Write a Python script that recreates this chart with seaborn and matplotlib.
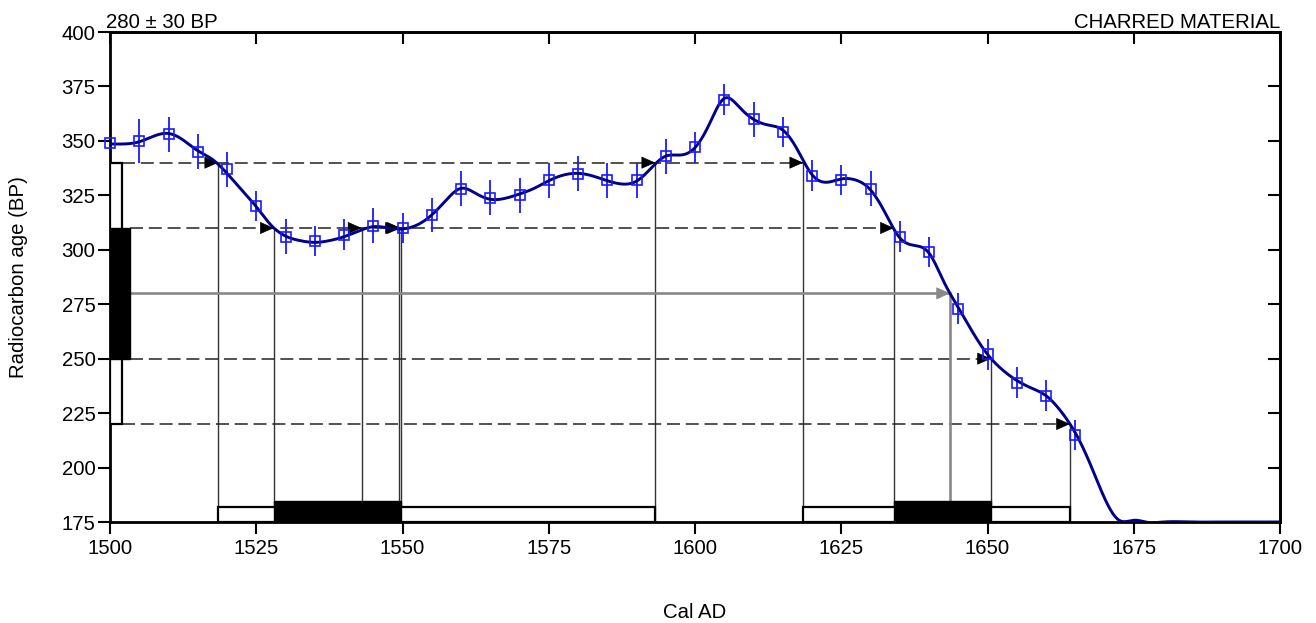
import numpy as np
import pandas as pd
import matplotlib
matplotlib.use("Agg")
import matplotlib.pyplot as plt
import seaborn as sns

# ---------------- data ----------------
point_years = [1500, 1505, 1510, 1515, 1520, 1525, 1530, 1535, 1540, 1545, 1550, 1555,
               1560, 1565, 1570, 1575, 1580, 1585, 1590, 1595, 1600, 1605, 1610, 1615,
               1620, 1625, 1630, 1635, 1640, 1645, 1650, 1655, 1660, 1665]
point_bp = [349, 350, 353, 345, 337, 320, 306, 304, 307, 311, 310, 316,
            328, 324, 325, 332, 335, 332, 332, 343, 347, 369, 360, 354,
            334, 332, 328, 306, 299, 273, 252, 239, 233, 215]
point_err = [8, 10, 8, 8, 8, 7, 8, 7, 7, 8, 7, 8,
             8, 8, 8, 8, 8, 8, 8, 8, 7, 7, 8, 7,
             7, 7, 8, 7, 7, 7, 7, 7, 7, 7]

curve_years = [1500, 1502.5, 1505, 1507.5, 1510, 1512.5, 1515, 1517.5, 1520, 1522.5,
               1525, 1527.5, 1530, 1532.5, 1535, 1537.5, 1540, 1542.5, 1545, 1547.5,
               1550, 1552.5, 1555, 1557.5, 1560, 1562.5, 1565, 1567.5, 1570, 1572.5,
               1575, 1577.5, 1580, 1582.5, 1585, 1587.5, 1590, 1592.5, 1595, 1597.5,
               1600, 1602.5, 1605, 1607.5, 1610, 1612.5, 1615, 1617.5, 1620, 1622.5,
               1625, 1627.5, 1630, 1632.5, 1635, 1637.5, 1640, 1642.5, 1645, 1647.5,
               1650, 1652.5, 1655, 1657.5, 1660, 1662.5, 1665, 1667.5, 1670, 1672.5,
               1675, 1677.5, 1680, 1685, 1690, 1695, 1700]
curve_bp = [348.6, 348.6, 349.6, 352.2, 353.4, 350.4, 345.5, 341.5, 335.1, 327.5,
            319.8, 311.4, 306.3, 304.2, 303.4, 304.2, 306.0, 308.6, 310.6, 310.1,
            309.6, 311.4, 316.0, 322.9, 328.2, 325.9, 323.2, 323.6, 325.6, 328.2,
            331.7, 334.3, 335.1, 333.9, 331.7, 330.2, 331.5, 337.5, 343.0, 343.5,
            346.9, 358.0, 369.5, 365.7, 359.9, 357.3, 355.0, 346.0, 334.5, 331.0,
            332.5, 332.0, 327.5, 317.0, 305.5, 302.0, 298.5, 285.5, 273.5, 262.0,
            252.0, 245.0, 240.0, 236.5, 233.0, 226.0, 216.0, 202.0, 186.0, 175.8,
            175.8, 174.8, 175.0, 175.0, 175.0, 175.0, 175.0]

measured_bp = 280
sigma_levels = [340, 310, 250, 220]
sigma_kind = [2, 1, 1, 2]
intercepts = [[1518.5, 1593.2, 1618.5],
              [1528.0, 1543.0, 1549.4, 1549.7, 1634.0],
              [1650.6],
              [1664.1]]
median_intercept = 1643.6
range_2sigma = [(1518.5, 1593.2), (1618.5, 1664.1)]
range_1sigma = [(1528.0, 1549.7), (1634.0, 1650.6)]

x_ticks = [1500, 1525, 1550, 1575, 1600, 1625, 1650, 1675, 1700]
y_ticks = [175, 200, 225, 250, 275, 300, 325, 350, 375, 400]
label_left = "280 \u00b1 30 BP"
label_right = "CHARRED MATERIAL"
x_label = "Cal AD"
y_label = "Radiocarbon age (BP)"


def natural_cubic(x, y, xs):
    x = np.asarray(x, float)
    y = np.asarray(y, float)
    n = len(x)
    h = np.diff(x)
    A = np.zeros((n, n))
    b = np.zeros(n)
    A[0, 0] = 1
    A[-1, -1] = 1
    for i in range(1, n - 1):
        A[i, i - 1] = h[i - 1]
        A[i, i] = 2 * (h[i - 1] + h[i])
        A[i, i + 1] = h[i]
        b[i] = 3 * ((y[i + 1] - y[i]) / h[i] - (y[i] - y[i - 1]) / h[i - 1])
    c = np.linalg.solve(A, b)
    bc = (y[1:] - y[:-1]) / h - h * (2 * c[:-1] + c[1:]) / 3
    d = (c[1:] - c[:-1]) / (3 * h)
    idx = np.clip(np.searchsorted(x, xs) - 1, 0, n - 2)
    dx = xs - x[idx]
    return y[idx] + bc[idx] * dx + c[idx] * dx ** 2 + d[idx] * dx ** 3


# ---------------- style ----------------
FS = 14.7
sns.set_style("ticks")
plt.rcParams["font.family"] = ["Liberation Sans", "DejaVu Sans"]
plt.rcParams["font.size"] = FS
for k in ["text.color", "axes.labelcolor", "xtick.color", "ytick.color",
          "xtick.labelcolor", "ytick.labelcolor"]:
    plt.rcParams[k] = "black"

fig = plt.figure(figsize=(13.16, 6.23), dpi=100)
ax = fig.add_axes([110 / 1316, 1 - 522 / 623, 1170 / 1316, 490 / 623])
ax.set_xlim(1500, 1700)
ax.set_ylim(175, 400)

W2 = 2.0    # width (years) of the 2-sigma bar on the y axis
W1 = 3.5    # width of the 1-sigma bar
H2 = 7.0    # height (BP) of the 2-sigma bars on the x axis
H1 = 9.7

# left bars (measured age)
ax.bar([1500], [sigma_levels[0] - sigma_levels[3]], bottom=sigma_levels[3], width=W2,
       align="edge", facecolor="white", edgecolor="black", linewidth=1.6, zorder=3)
ax.bar([1500], [sigma_levels[1] - sigma_levels[2]], bottom=sigma_levels[2], width=W1,
       align="edge", facecolor="black", edgecolor="black", linewidth=1.0, zorder=3)

# bottom bars (calibrated ranges)
for s, e in range_2sigma:
    ax.bar([s], [H2], bottom=175, width=e - s, align="edge", facecolor="white",
           edgecolor="black", linewidth=1.6, zorder=3)
for s, e in range_1sigma:
    ax.bar([s], [H1], bottom=175, width=e - s, align="edge", facecolor="black",
           edgecolor="black", linewidth=1.0, zorder=3)

# dashed level lines, arrows and vertical drop lines
for lvl, kind, xs in zip(sigma_levels, sigma_kind, intercepts):
    start = 1500 + (W2 if kind == 2 else W1)
    ax.plot([start, max(xs)], [lvl, lvl], color="#222222", lw=1.1,
            dashes=(8.5, 3.8), zorder=2)
    for xv in xs:
        ax.plot([xv, xv], [lvl, 175], color="#333333", lw=1.0, zorder=2)
        ax.annotate("", xy=(xv, lvl), xytext=(-9, 0), textcoords="offset points",
                    arrowprops=dict(arrowstyle="-|>,head_length=0.9,head_width=0.4",
                                    fc="black", ec="black", lw=0.5,
                                    shrinkA=0, shrinkB=0, mutation_scale=10),
                    zorder=4)

# measured age (grey arrow)
ax.plot([1500 + W1, median_intercept], [measured_bp, measured_bp], color="#888888",
        lw=1.9, zorder=2)
ax.plot([median_intercept, median_intercept], [measured_bp, 175], color="#888888",
        lw=1.9, zorder=2)
ax.annotate("", xy=(median_intercept, measured_bp), xytext=(-9, 0),
            textcoords="offset points",
            arrowprops=dict(arrowstyle="-|>,head_length=0.9,head_width=0.4",
                            fc="#888888", ec="#888888", lw=0.5,
                            shrinkA=0, shrinkB=0, mutation_scale=10), zorder=4)

# calibration curve
xs = np.linspace(1500, 1700, 2001)
curve_df = pd.DataFrame({"year": xs, "bp": natural_cubic(curve_years, curve_bp, xs)})
sns.lineplot(data=curve_df, x="year", y="bp", color="#000088", lw=2.1, ax=ax,
             zorder=5, sort=False)

# data points
ax.errorbar(point_years, point_bp, yerr=point_err, fmt="none", ecolor="#1a1aff",
            elinewidth=1.3, capsize=0, zorder=2.2)
ax.plot(point_years, point_bp, linestyle="none", marker="s", ms=7.0, mfc="none",
        mec="#1a1aff", mew=1.2, zorder=6, clip_on=False)

# axes cosmetics
for sp in ax.spines.values():
    sp.set_linewidth(2.0)
    sp.set_color("black")
    sp.set_zorder(2.5)
ax.set_xticks(x_ticks)
ax.set_yticks(y_ticks)
ax.tick_params(axis="both", direction="out", length=8.5, width=1.5, colors="black",
               labelsize=FS)
ax.tick_params(axis="x", pad=4)
ax.tick_params(axis="y", pad=2)
top = ax.secondary_xaxis("top")
top.set_xticks(x_ticks)
top.tick_params(direction="in", length=8.5, width=1.5, labeltop=False)
top.spines["top"].set_linewidth(2.0)
right = ax.secondary_yaxis("right")
right.set_yticks(y_ticks)
right.tick_params(direction="in", length=8.5, width=1.5, labelright=False)
right.spines["right"].set_linewidth(2.0)

ax.set_xlabel(x_label, fontsize=FS)
ax.set_ylabel(y_label, fontsize=FS)
ax.xaxis.set_label_coords(0.5, -0.165)
ax.yaxis.set_label_coords(-0.070, 0.5)

ax.text(-0.003, 1.008, label_left, transform=ax.transAxes, ha="left",
        va="baseline", fontsize=FS)
ax.text(1.0, 1.008, label_right, transform=ax.transAxes, ha="right",
        va="baseline", fontsize=FS)

fig.savefig("out.png", dpi=100)
